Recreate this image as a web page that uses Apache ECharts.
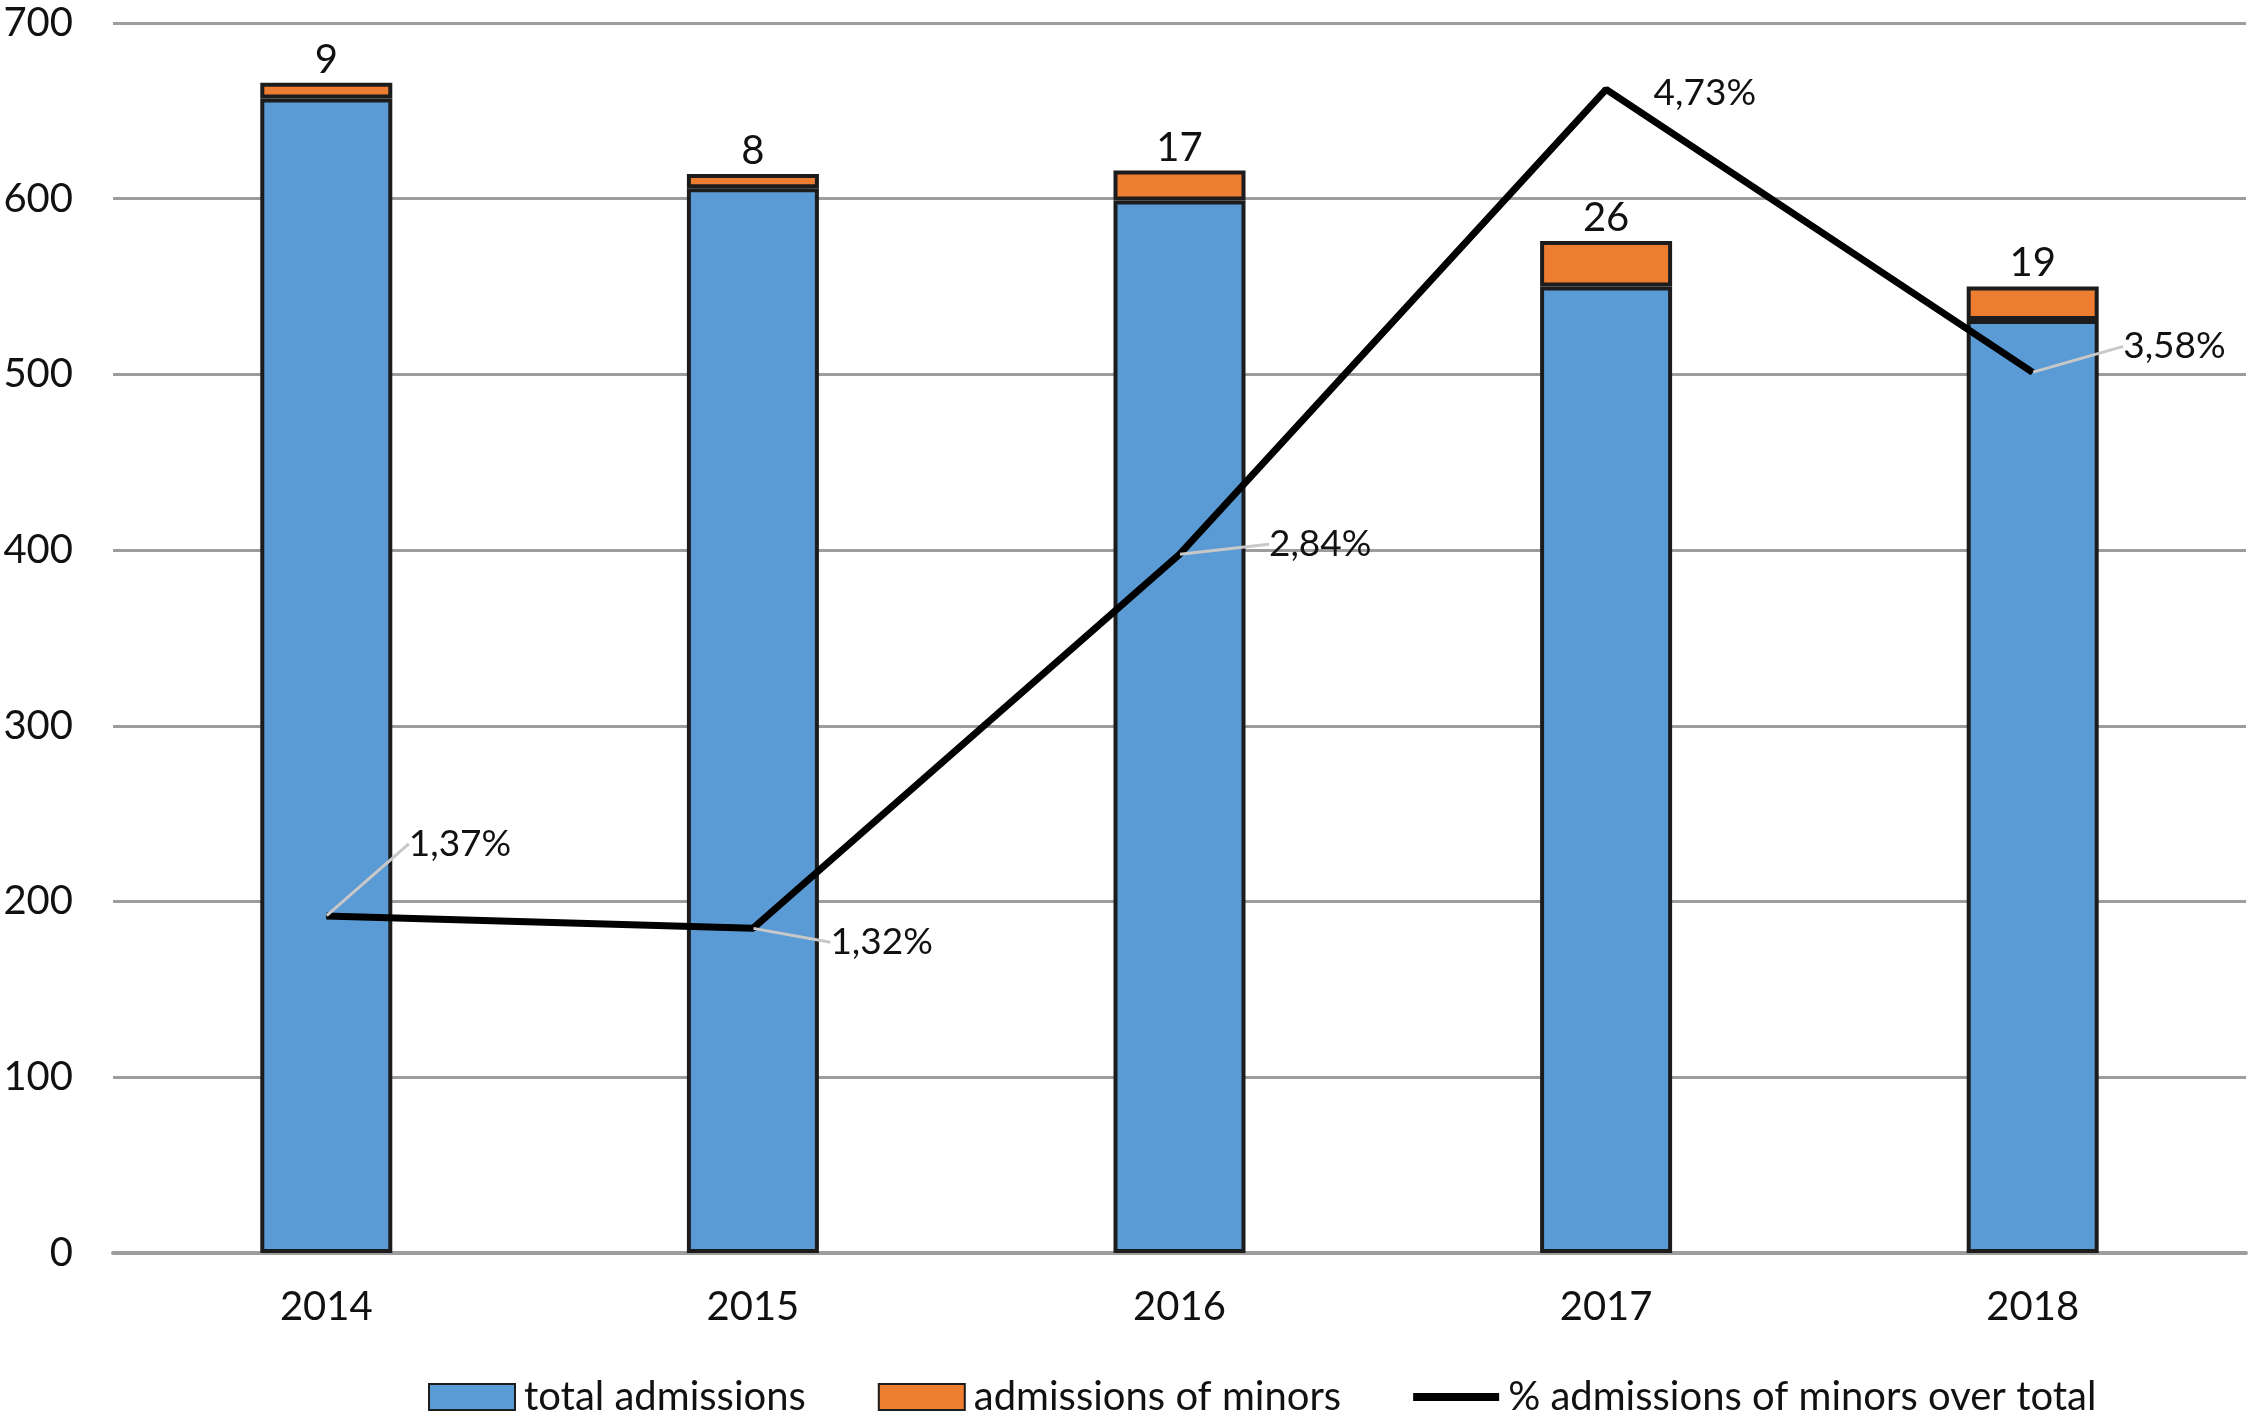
<!DOCTYPE html>
<html>
<head>
<meta charset="utf-8">
<script src="https://cdn.jsdelivr.net/npm/echarts@6/dist/echarts.min.js"></script>
<style>
html,body{margin:0;padding:0;background:#fff;}
#chart{width:2250px;height:1416px;}
</style>
</head>
<body>
<div id="chart"></div>
<script>
const categories = ['2014', '2015', '2016', '2017', '2018'];
const totalAdmissions = [657, 606, 599, 550, 531];
const minorAdmissions = [9, 8, 17, 26, 19];
const minorShare = [1.37, 1.32, 2.84, 4.73, 3.58];
const yTicks = [0, 100, 200, 300, 400, 500, 600, 700];

// label offsets for the percentage labels (layout only)
const pctOffsets = [[82, -72], [77, 14], [89, -10], [47, 4], [90, -26]];

const FONT = 'Lato';
const chart = echarts.init(document.getElementById('chart'), null, {renderer: 'canvas'});

chart.setOption({
  animation: false,
  backgroundColor: '#ffffff',
  textStyle: {fontFamily: FONT, color: '#111'},
  grid: {left: 113, right: 4, top: 23, bottom: 163},
  legend: {
    left: 423, top: 1372,
    itemWidth: 86, itemHeight: 26, itemGap: 72,
    symbolKeepAspect: true,
    textStyle: {fontFamily: FONT, fontSize: 40, color: '#111', padding: [0, 0, 0, 4]},
    data: [
      {name: 'total admissions', icon: 'rect'},
      {name: 'admissions of minors', icon: 'rect'},
      {name: '% admissions of minors over total', icon: 'path://M0,0h86v8h-86z'}
    ]
  },
  xAxis: {
    type: 'category',
    data: categories,
    axisTick: {show: false},
    axisLine: {lineStyle: {color: '#9d9d9d', width: 4}},
    axisLabel: {fontFamily: FONT, fontSize: 40, color: '#111', margin: 34}
  },
  yAxis: [
    {
      type: 'value', min: yTicks[0], max: yTicks[yTicks.length - 1], interval: 100,
      axisLine: {show: false}, axisTick: {show: false},
      splitLine: {lineStyle: {color: '#9d9d9d', width: 3}},
      axisLabel: {fontFamily: FONT, fontSize: 40, color: '#111', margin: 40}
    },
    {
      type: 'value', min: 0, max: 5, show: false,
      splitLine: {show: false}
    }
  ],
  series: [
    {
      name: 'total admissions', type: 'bar', stack: 'a', barWidth: 132,
      data: totalAdmissions,
      itemStyle: {color: '#5b9bd5', borderColor: '#1c1c1c', borderWidth: 4}
    },
    {
      name: 'admissions of minors', type: 'bar', stack: 'a', barWidth: 132,
      data: minorAdmissions,
      itemStyle: {color: '#ed7d31', borderColor: '#1c1c1c', borderWidth: 4},
      label: {show: true, position: 'top', distance: 3, fontFamily: FONT, fontSize: 40, color: '#111'}
    },
    {
      name: '% admissions of minors over total', type: 'line', yAxisIndex: 1,
      data: minorShare.map((v, i) => ({value: v, labelLine: {show: i !== 3}})),
      symbol: 'circle', symbolSize: 1, showSymbol: true,
      lineStyle: {color: '#000', width: 7},
      itemStyle: {color: '#000'},
      z: 5,
      label: {
        show: true, position: 'right', distance: 0,
        fontFamily: FONT, fontSize: 37, color: '#111',
        formatter: p => p.value.toFixed(2).replace('.', ',') + '%'
      },
      labelLine: {show: true, lineStyle: {color: '#c8c8c8', width: 3}},
      labelLayout: p => ({dx: pctOffsets[p.dataIndex][0], dy: pctOffsets[p.dataIndex][1]})
    }
  ]
});
</script>
</body>
</html>
